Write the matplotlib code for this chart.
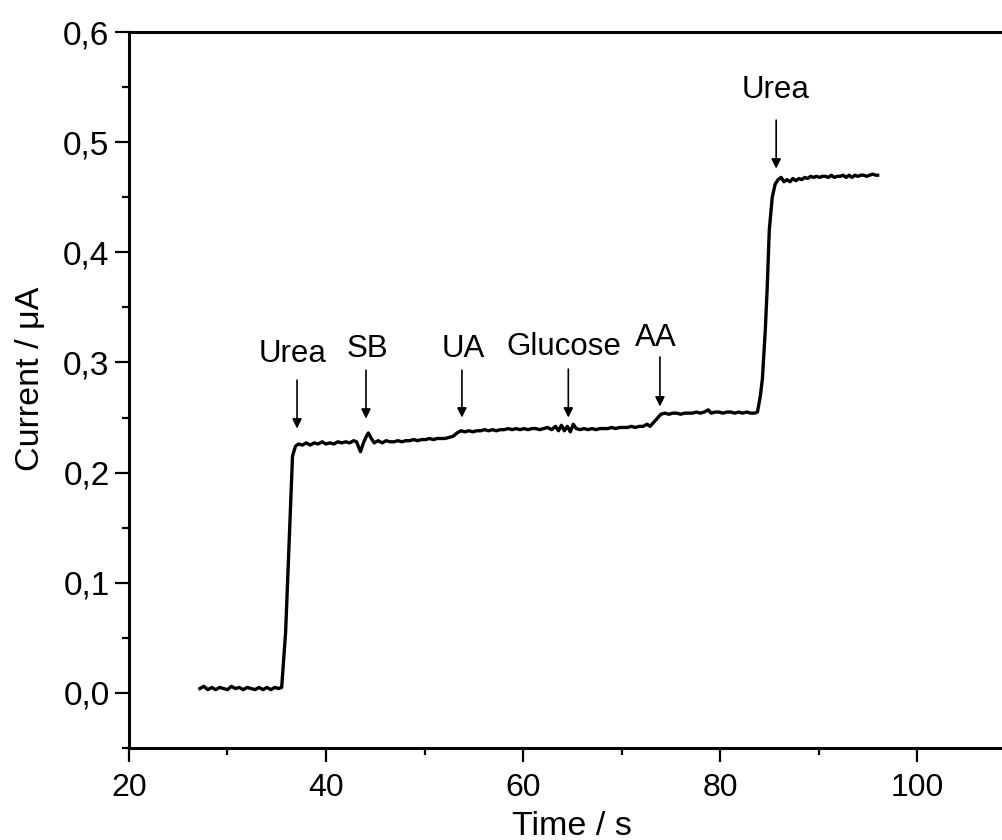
import matplotlib
matplotlib.use("Agg")
import matplotlib.pyplot as plt
from matplotlib.ticker import MultipleLocator, FuncFormatter

plt.rcParams['font.family'] = ['Liberation Sans', 'DejaVu Sans']

# amperometric response (time in s, current in uA)
time_s = [
    27.2, 27.6, 28.0, 28.4, 28.8, 29.2, 29.6, 30.0, 30.4, 30.8, 31.2, 31.6,
    32.0, 32.4, 32.8, 33.2, 33.6, 34.0, 34.4, 34.8, 35.2, 35.5,
    35.9, 36.6, 36.9, 37.2, 37.6, 38.0, 38.4, 38.8, 39.2, 39.6, 40.0, 40.4,
    40.8, 41.2, 41.6, 42.0, 42.4, 42.8, 43.1, 43.5, 43.8, 44.1, 44.3, 44.6,
    44.9, 45.3, 45.7, 46.1, 46.5, 46.9, 47.3, 47.7, 48.1, 48.5, 48.9, 49.3,
    49.7, 50.1, 50.5, 50.9, 51.3, 51.7, 52.1, 52.5, 52.9, 53.3, 53.7, 54.1,
    54.5, 54.9, 55.3, 55.7, 56.1, 56.5, 56.9, 57.3, 57.7, 58.1, 58.5, 58.9,
    59.3, 59.7, 60.1, 60.5, 60.9, 61.3, 61.7, 62.1, 62.5, 62.9, 63.3, 63.6,
    63.9, 64.2, 64.5, 64.8, 65.1, 65.4, 65.8, 66.2, 66.6, 67.0, 67.4, 67.8,
    68.2, 68.6, 69.0, 69.4, 69.8, 70.2, 70.6, 71.0, 71.4, 71.8, 72.2, 72.6,
    72.9, 73.3, 73.7, 74.0, 74.4, 74.8, 75.2, 75.6, 76.0, 76.4, 76.8, 77.2,
    77.6, 78.0, 78.4, 78.8, 79.1, 79.5, 79.9, 80.3, 80.7, 81.1, 81.5, 81.9,
    82.3, 82.7, 83.1, 83.5, 83.8, 84.1, 84.3, 84.6, 84.8, 85.0, 85.3, 85.6,
    85.9, 86.2, 86.5, 86.8, 87.1, 87.4, 87.7, 88.0, 88.3, 88.6, 88.9, 89.2,
    89.5, 89.8, 90.1, 90.4, 90.7, 91.0, 91.3, 91.6, 91.9, 92.2, 92.5, 92.8,
    93.1, 93.4, 93.7, 94.0, 94.3, 94.6, 94.9, 95.2, 95.5, 95.8, 96.0,
]
current_uA = [
    0.004, 0.006, 0.003, 0.005, 0.003, 0.005, 0.004, 0.003, 0.006, 0.004, 0.005, 0.003,
    0.005, 0.004, 0.003, 0.005, 0.003, 0.005, 0.003, 0.005, 0.004, 0.005,
    0.055, 0.215, 0.224, 0.226, 0.225, 0.227, 0.225, 0.227, 0.226, 0.228, 0.226, 0.227,
    0.226, 0.228, 0.227, 0.228, 0.227, 0.229, 0.228, 0.219, 0.227, 0.233, 0.236, 0.231,
    0.227, 0.229, 0.227, 0.229, 0.228, 0.228, 0.229, 0.228, 0.229, 0.229, 0.230, 0.229,
    0.230, 0.230, 0.231, 0.230, 0.231, 0.231, 0.231, 0.232, 0.233, 0.236, 0.238, 0.237,
    0.238, 0.237, 0.238, 0.238, 0.239, 0.238, 0.239, 0.238, 0.239, 0.239, 0.240, 0.239,
    0.240, 0.239, 0.240, 0.239, 0.240, 0.240, 0.239, 0.240, 0.241, 0.239, 0.242, 0.238,
    0.243, 0.238, 0.242, 0.237, 0.244, 0.240, 0.239, 0.240, 0.239, 0.240, 0.239, 0.240,
    0.240, 0.240, 0.241, 0.240, 0.241, 0.241, 0.241, 0.242, 0.241, 0.242, 0.242, 0.244,
    0.242, 0.246, 0.250, 0.253, 0.254, 0.253, 0.254, 0.254, 0.253, 0.254, 0.254, 0.254,
    0.255, 0.254, 0.255, 0.257, 0.254, 0.255, 0.255, 0.254, 0.255, 0.255, 0.254, 0.255,
    0.254, 0.255, 0.254, 0.254, 0.255, 0.270, 0.285, 0.330, 0.370, 0.420, 0.450, 0.462,
    0.466, 0.468, 0.464, 0.466, 0.464, 0.467, 0.465, 0.467, 0.466, 0.468, 0.467, 0.469,
    0.468, 0.469, 0.468, 0.469, 0.469, 0.468, 0.470, 0.468, 0.469, 0.469, 0.470, 0.468,
    0.470, 0.468, 0.470, 0.469, 0.470, 0.470, 0.469, 0.470, 0.471, 0.470, 0.470,
]

# injection markers: label, arrow x, arrow top, arrow tip, label x, label baseline
labels = ["Urea", "SB", "UA", "Glucose", "AA", "Urea"]
arrow_x = [37.06, 44.06, 53.8, 64.6, 73.9, 85.7]
arrow_top = [0.284, 0.293, 0.293, 0.294, 0.305, 0.520]
arrow_tip = [0.240, 0.249, 0.250, 0.250, 0.260, 0.476]
label_x = [36.6, 44.2, 53.9, 64.1, 73.5, 85.6]
label_y = [0.300, 0.305, 0.305, 0.307, 0.315, 0.540]

fig = plt.figure(figsize=(10.03, 8.4), dpi=100)
ax = fig.add_axes([0.1286, 0.1095, 0.8839, 0.8524])

ax.plot(time_s, current_uA, color='black', lw=2.4, solid_joinstyle='round')

for lab, x, y0, y1, lx, ly in zip(labels, arrow_x, arrow_top, arrow_tip, label_x, label_y):
    ax.annotate("", xy=(x, y1), xytext=(x, y0),
                arrowprops=dict(arrowstyle='-|>', lw=1.2, color='black',
                                mutation_scale=14, shrinkA=0, shrinkB=0))
    ax.text(lx, ly, lab, ha='center', va='baseline', fontsize=22.5)

ax.set_xlim(20, 110)
ax.set_ylim(-0.05, 0.6)
ax.xaxis.set_major_locator(MultipleLocator(20))
ax.xaxis.set_minor_locator(MultipleLocator(10))
ax.yaxis.set_major_locator(MultipleLocator(0.1))
ax.yaxis.set_minor_locator(MultipleLocator(0.05))
ax.yaxis.set_major_formatter(FuncFormatter(lambda v, p: f"{v:.1f}".replace('.', ',')))

for side in ['left', 'bottom', 'top']:
    ax.spines[side].set_linewidth(2.2)
ax.spines['right'].set_visible(False)

ax.tick_params(which='major', direction='out', length=10, width=1.6,
               labelsize=24, pad=4)
ax.tick_params(which='minor', direction='out', length=5, width=1.6)
ax.tick_params(axis='x', which='major', pad=8, labelsize=23)

ax.set_xlabel("Time / s", fontsize=24.5)
ax.set_ylabel("Current / μA", fontsize=24.5)
ax.xaxis.set_label_coords(0.5, -0.088)
ax.yaxis.set_label_coords(-0.094, 0.515)

fig.savefig("out.png", dpi=100)
